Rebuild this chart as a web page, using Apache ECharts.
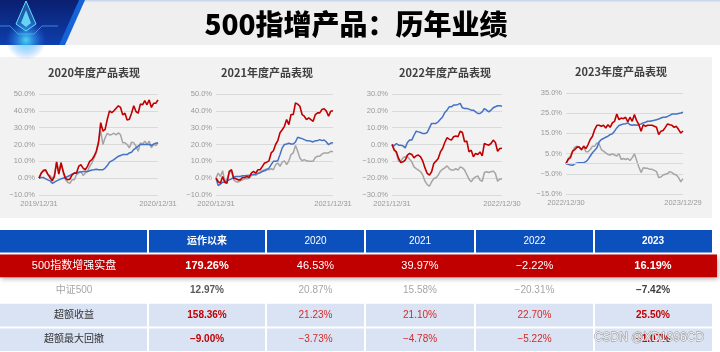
<!DOCTYPE html>
<html><head><meta charset="utf-8">
<script src="https://cdn.jsdelivr.net/npm/echarts@6/dist/echarts.min.js"></script>
<style>html,body{margin:0;padding:0;background:#fff}#c{width:720px;height:352px}</style>
</head><body><div id="c"></div>
<script>
// ---------- DATA ----------
const mainTitle = '500指增产品：历年业绩';
const chartTitles = ['2020年度产品表现', '2021年度产品表现', '2022年度产品表现', '2023年度产品表现'];
const startDates = ['2019/12/31', '2020/12/31', '2021/12/31', '2022/12/30'];
const endDates = ['2020/12/31', '2021/12/31', '2022/12/30', '2023/12/29'];
const seriesNames = ['500指数增强实盘', '中证500', '超额收益'];

// product (red)
const product2020 = [0,3,4.4,5,2.4,0.4,-1.6,1,9.5,2.4,9,4,0,-1,-0.6,2,3,3,7,8,6,5,7,10,11,13,16,21,33,28,29,35,40,39,40,41.5,43,42,37.6,38.6,34.6,35,38.6,43,39.6,38.6,44,43.6,46,43.6,46.5,42,44.5,44.5,46.5];
const product2021 = [0,-2,-3,1,-2.6,-3,4,5,0,-0.4,-1,-1,0.4,0.4,1,0.4,3,4,3,5,5,7,9,9.5,10.3,15,16.3,20,22.3,27,28.8,30.8,34.8,31.8,37.8,37.8,44.7,44,42.7,37.8,36.8,34.8,35.8,34.8,33.8,37.8,38.8,38.8,40.8,41.2,39.8,36.8,39.8,40];
const product2022 = [0,-3.4,-4.4,-8.3,-10.7,-10.3,-9.3,-6.3,-5.3,-5.9,-7.9,-6.7,-6.3,-7.3,-9.9,-13.9,-17.2,-18.2,-16.2,-11.3,-9.9,-8.3,-4.4,-2.4,1.2,4,3.2,2.6,4.6,5.1,4.6,7.9,7.1,1.6,2,-4.4,-3.4,-7.3,-5.3,-5.9,-4.4,-6.7,0.6,0,-0.4,0.6,2.6,1.2,-4,-2.4,-2.2];
const product2023 = [0,2.1,3,6.2,7,8.2,8.2,7,8.7,7.4,9.5,12,13.6,16.9,19,19,18.5,19,17.7,19.3,18,20.2,21,24.6,21.8,22.6,22.3,23,20.7,23,21,24.3,21.3,19.3,16.1,19.3,18.5,19,19,19,18.5,18,14.4,16.1,16.4,18,19.7,19.3,19,18,18.5,16.9,15.2,16.2];
// index CSI 500 (gray)
const index2020 = [0,3,5,4,2,1.6,-0.4,2,10,3,9.5,3,-1,-2.4,-3,-1,-1,2,3,4,1.6,3,4,7,9,12,15,22,28,20,24,26.7,25.7,26,26.7,25.7,27,25.7,21,21,20,18,21.4,21,19,16,21,20.2,22,20,22,18,20.2,19.4,20.9];
const index2021 = [0,3,1,4.4,-2,-0.4,3,4.4,-1,-2,-2.4,-1.6,-1,-0.4,-0.4,0,1.6,2.4,1.6,3,3.6,4.4,5,5.4,5,5.6,5,8,9,7,9.5,10.3,8,10.3,14,15,19.5,16,12,10.3,11,10.3,10,10,10,12.3,13,13,14.3,15,15,15,16,15.6];
const index2022 = [0,-2.4,-5.3,-9.9,-9.9,-7.9,-7.3,-7.3,-8.7,-10.3,-13.3,-14.3,-15.2,-16.2,-18.2,-21.8,-23.8,-24.8,-22.2,-20.2,-19.8,-18.2,-15.8,-14.7,-13.9,-12.7,-14.3,-15.2,-15.2,-14.3,-15.2,-13.3,-13.9,-15.2,-17.8,-20.6,-22.2,-20.2,-19.2,-18.6,-21.2,-21.8,-16.6,-16.2,-16.6,-16.2,-15.8,-17.2,-21.8,-20.6,-20.3];
const index2023 = [0,2.6,3.8,6.2,8.2,8.7,8.2,6.6,8.2,5.9,5.9,7,8.7,8.7,10.3,9.8,7,6.2,5.4,4.6,4.3,4.9,4.3,3.8,4.9,2.1,2.6,2.1,2.6,1.6,3,4.9,1.6,-1.6,-4.4,-2,-2.3,-2.3,-2.8,-2.8,-3.3,-3.9,-6.9,-6.6,-5.6,-5.2,-4.9,-3.9,-4.4,-5.2,-5.6,-6.9,-9,-7.4];
// excess (blue)
const excess2020 = [0,0.4,0.4,-0.4,-1,-1.6,-3,-2.4,-1.6,-1,-0.4,0,0.4,1,1.6,2.4,3,3,3.6,3.6,4,4,4,4.4,4.8,5,5.3,5,5,5,6,7.5,9.5,10.3,11,12,13,13.5,14,14,14,15,15.4,17,18,19,20,20,20,20,20,19.4,20.2,20.8,21];
const excess2021 = [0,-4.4,-3.6,-2.4,-2.4,-1.6,-1,-0.4,0.4,1,1,1,1.4,1.4,1.6,1.6,2,2,2.4,2.8,3.2,4,4.4,5,6,8,10,10,10.3,14,18,20,20.3,20.7,20.3,20.3,21.5,24.3,23.9,23.5,22.9,22.3,22.3,21.9,21.5,22.3,22.3,22.9,22.3,22.7,21.5,19.9,20.9,21.1];
const excess2022 = [0,-0.8,0.6,-0.4,-0.4,-0.8,-2,1.2,2.6,2.6,5.5,7.9,7.5,7.1,6.5,6.5,7.1,9.9,12.5,12.5,12.5,13.5,15,16.4,19,20.4,22.4,22.4,23.4,23.4,23.8,24.4,21.8,21.4,21.4,21,20.4,20.4,19.4,18.4,18.4,19.4,21.4,20.4,19.4,20.4,21.8,22.4,23,23,22.7];
const excess2023 = [0,-0.3,-0.7,-0.8,0,0.3,0.5,0.5,0.5,1,2.1,3.8,5.4,6.6,7.9,10.8,12,12.5,13.1,13.6,14.4,14.8,16.1,17.7,18.9,19.3,19.7,19.8,20.2,19.3,19,19.3,19,19.3,19.7,20.2,20.5,21,21,21.3,21.5,21.8,22.1,22.6,23,23,23.4,23.9,24.6,24.6,24.6,24.9,25.1,25.5];

// y-axis ticks
const yMins = [-10, -10, -30, -15];
const yMaxs = [50, 50, 30, 35];
const yStep = 10;

// table
const tableHeader = ['', '运作以来', '2020', '2021', '2022', '2023'];
const rowLabels = ['500指数增强实盘', '中证500', '超额收益', '超额最大回撤'];
const productRow = [179.26, 46.53, 39.97, -2.22, 16.19];
const indexRow = [12.97, 20.87, 15.58, -20.31, -7.42];
const excessRow = [158.36, 21.23, 21.10, 22.70, 25.50];
const drawdownRow = [-9.00, -3.73, -4.78, -5.22, -1.07];
const watermark = 'CSDN @XD1996CD';

// ---------- LAYOUT / STYLE ----------
const productSeries = [product2020, product2021, product2022, product2023];
const indexSeries = [index2020, index2021, index2022, index2023];
const excessSeries = [excess2020, excess2021, excess2022, excess2023];
const gridBoxes = [
  {left: 39, top: 94, width: 119, height: 101},
  {left: 216, top: 94, width: 117, height: 101},
  {left: 392, top: 94, width: 110, height: 101},
  {left: 566, top: 93, width: 117, height: 101}
];
const titlePos = [[94, 73], [267, 73], [445, 73], [621, 72]];
const RED = '#c00000', GRAY = '#a5a5a5', BLUE = '#4472c4';
const LATIN = '"Liberation Sans", "Noto Sans CJK SC", sans-serif';
const CJK = '"Noto Sans CJK SC", "Liberation Sans", sans-serif';

function pct(v, d) {
  const s = Math.abs(v).toFixed(d) + '%';
  return v < 0 ? '\u2212' + s : s;
}

const grids = [], xAxes = [], yAxes = [], series = [];
for (let k = 0; k < 4; k++) {
  const n = productSeries[k].length;
  const cats = productSeries[k].map((_, i) => String(i));
  grids.push(Object.assign({outerBoundsMode: 'none', containLabel: false}, gridBoxes[k]));
  xAxes.push({
    type: 'category', gridIndex: k, data: cats, boundaryGap: false,
    axisLine: {show: false}, axisTick: {show: false}, splitLine: {show: false},
    axisLabel: {
      interval: (idx) => idx === 0 || idx === n - 1,
      formatter: (v, idx) => idx === 0 ? startDates[k] : (idx === n - 1 ? endDates[k] : ''),
      color: '#999', fontSize: 7.5, fontFamily: LATIN, margin: 5
    }
  });
  yAxes.push({
    type: 'value', gridIndex: k, min: yMins[k], max: yMaxs[k], interval: yStep,
    axisLine: {show: false}, axisTick: {show: false},
    splitLine: {lineStyle: {color: '#dadada', width: 1}},
    axisLabel: {formatter: (v) => pct(v, 1), color: '#999', fontSize: 7.5, fontFamily: LATIN, margin: 4}
  });
  const base = {type: 'line', xAxisIndex: k, yAxisIndex: k, showSymbol: false, symbol: 'none', silent: true, animation: false, lineStyle: {width: 1.5}};
  const gs = Object.assign({}, base, {name: seriesNames[1], data: indexSeries[k], lineStyle: {width: 1.5, color: GRAY}, itemStyle: {color: GRAY}});
  if (k === 3) {
    gs.markLine = {silent: true, symbol: 'none', label: {show: false}, lineStyle: {color: '#dadada', width: 1, type: 'solid'}, data: [{yAxis: 0}], animation: false};
  }
  series.push(gs);
  series.push(Object.assign({}, base, {name: seriesNames[2], data: excessSeries[k], lineStyle: {width: 1.5, color: BLUE}, itemStyle: {color: BLUE}}));
  series.push(Object.assign({}, base, {name: seriesNames[0], data: productSeries[k], lineStyle: {width: 1.6, color: RED}, itemStyle: {color: RED}}));
}

// ---------- TABLE ----------
const colW = [148, 118, 99, 110, 119, 118];
const nCols = 6, nRows = 5;
function cellText(c, r) {
  if (r === 0) return tableHeader[c];
  if (c === 0) return rowLabels[r - 1];
  const rows = [productRow, indexRow, excessRow, drawdownRow];
  return pct(rows[r - 1][c - 1], 2);
}
function cellStyle(c, r) {
  const edge = (c === 1 || c === 5);
  if (r === 0) return {fill: '#fff', weight: edge ? 'bold' : 'normal', size: 10};
  if (r === 1) return {fill: '#fff', weight: edge ? 'bold' : 'normal', size: 11};
  if (r === 2) {
    if (c === 1) return {fill: '#595959', weight: 'bold', size: 10};
    if (c === 5) return {fill: '#404040', weight: 'bold', size: 10};
    return {fill: '#a6a6a6', weight: 'normal', size: 10};
  }
  if (c === 0) return {fill: '#333', weight: 'normal', size: 10};
  if (edge) return {fill: '#c00000', weight: 'bold', size: 10};
  return {fill: '#d42a2a', weight: 'normal', size: 10};
}
const tableData = [];
for (let r = 0; r < nRows; r++) for (let c = 0; c < nCols; c++) tableData.push([c, r]);

function renderCell(params, api) {
  const c = api.value(0), r = api.value(1);
  const cs = params.coordSys;
  const tot = colW.reduce((a, b) => a + b, 0);
  let x0 = cs.x;
  for (let i = 0; i < c; i++) x0 += colW[i] / tot * cs.width;
  const w = colW[c] / tot * cs.width;
  const cy = api.coord([0, r])[1];
  const bh = api.size([0, 1])[1];
  const top = cy - bh / 2 + 1, h = bh - 2;
  const children = [];
  const sx = x0 + (c > 0 ? 1 : 0);
  const sw = w - (c > 0 ? 1 : 0) - (c < nCols - 1 ? 1 : 0);
  if (r === 0) {
    children.push({type: 'rect', shape: {x: sx, y: top, width: sw, height: h}, style: {fill: '#0b50bd'}});
  } else if (r === 1 && c === 0) {
    children.push({type: 'rect', shape: {x: cs.x, y: top, width: cs.width + 5, height: h},
      style: {fill: '#c00000', shadowBlur: 5, shadowColor: 'rgba(0,0,0,0.35)', shadowOffsetX: 1, shadowOffsetY: 2}});
  } else if (r >= 3) {
    children.push({type: 'rect', shape: {x: sx, y: top, width: sw, height: h}, style: {fill: '#dae3f3'}});
  }
  const st = cellStyle(c, r);
  const txt = cellText(c, r);
  if (txt) {
    children.push({type: 'text', z2: 10, style: {
      text: txt, x: x0 + w / 2, y: cy,
      align: 'center', verticalAlign: 'middle', textAlign: 'center', textVerticalAlign: 'middle',
      fill: st.fill, font: st.weight + ' ' + st.size + 'px ' + LATIN
    }});
  }
  return {type: 'group', children: children};
}

grids.push({outerBoundsMode: 'none', containLabel: false, left: 0, top: 229, width: 712, height: 123});
xAxes.push({type: 'value', gridIndex: 4, min: 0, max: nCols, show: false});
yAxes.push({type: 'category', gridIndex: 4, inverse: true, data: ['h', 'p', 'i', 'e', 'd'], show: false});
series.push({type: 'custom', xAxisIndex: 4, yAxisIndex: 4, data: tableData, renderItem: renderCell, clip: false, silent: true, animation: false, z: 5});

// ---------- GRAPHICS ----------
const graphics = [
  {type: 'rect', z: -10, shape: {x: 0, y: 0, width: 720, height: 45}, style: {fill: '#efefef'}},
  {type: 'rect', z: -9, shape: {x: 0, y: 0, width: 720, height: 1.5}, style: {fill: '#c9d6ec'}},
  {type: 'polygon', z: -8, shape: {points: [[0, 0], [84, 0], [64, 45], [0, 45]]},
    style: {fill: new echarts.graphic.LinearGradient(0, 0, 0, 1, [{offset: 0, color: '#0a1f70'}, {offset: 1, color: '#0e3fae'}])}},
  {type: 'circle', z: -7, shape: {cx: 26, cy: 40, r: 20},
    style: {fill: new echarts.graphic.RadialGradient(0.5, 0.5, 0.5, [{offset: 0, color: 'rgba(80,230,255,0.9)'}, {offset: 1, color: 'rgba(40,120,255,0)'}])}},
  {type: 'polyline', z: -6, shape: {points: [[0, 26], [10, 26], [18, 34], [34, 34], [42, 26], [58, 26]]}, style: {stroke: 'rgba(90,200,255,0.6)', lineWidth: 1, fill: null}},
  {type: 'polygon', z: -6, shape: {points: [[26, 1], [36, 24], [26, 31], [16, 24]]}, style: {fill: 'rgba(70,190,255,0.35)', stroke: '#5fe0ff', lineWidth: 1}},
  {type: 'polygon', z: -6, shape: {points: [[26, 10], [31, 23], [26, 27], [21, 23]]}, style: {fill: 'rgba(120,240,255,0.8)'}},
  {type: 'polygon', z: -5, shape: {points: [[79, 0], [85, 0], [65, 45], [59, 45]]}, style: {fill: '#1663d8'}},
  {type: 'text', z: 5, style: {text: mainTitle, x: 356, y: 24, align: 'center', verticalAlign: 'middle', textAlign: 'center', textVerticalAlign: 'middle',
    fill: '#000', font: '900 28px ' + CJK}},
  {type: 'rect', z: -10, shape: {x: 0, y: 57, width: 712, height: 161}, style: {fill: '#f2f2f2'}},
  {type: 'text', z: 50, style: {text: watermark, x: 649, y: 338, align: 'center', verticalAlign: 'middle', textAlign: 'center', textVerticalAlign: 'middle',
    fill: 'rgba(250,250,250,0.92)', stroke: 'rgba(100,100,100,0.7)', lineWidth: 0.9, font: '12px ' + LATIN}}
];
for (let k = 0; k < 4; k++) {
  graphics.push({type: 'text', z: 5, style: {text: chartTitles[k], x: titlePos[k][0], y: titlePos[k][1], align: 'center', verticalAlign: 'middle',
    textAlign: 'center', textVerticalAlign: 'middle', fill: '#404040', font: 'bold 11px ' + CJK}});
}

const chart = echarts.init(document.getElementById('c'), null, {renderer: 'canvas'});
chart.setOption({
  backgroundColor: '#ffffff',
  animation: false,
  grid: grids,
  xAxis: xAxes,
  yAxis: yAxes,
  series: series,
  graphic: {elements: graphics}
});
</script>
</body></html>
